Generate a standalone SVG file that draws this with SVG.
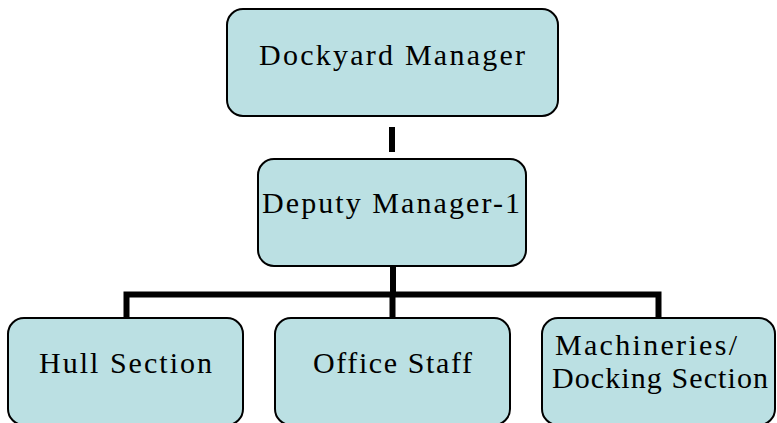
<svg xmlns="http://www.w3.org/2000/svg" width="777" height="423" viewBox="0 0 777 423">
<style>
.box{fill:#BBE0E3;stroke:#000;stroke-width:2}
.t{font-family:"Liberation Serif","Times New Roman",serif;font-size:30px;fill:#000}
.c{stroke:#000;stroke-width:6;fill:none}
</style>
<rect width="777" height="423" fill="#fff"/>
<g id="connectors">
<line class="c" x1="392" y1="127" x2="392" y2="152"/>
<line class="c" x1="393" y1="266" x2="393" y2="294.5"/>
<polyline class="c" points="126.5,318 126.5,294.5 658.5,294.5 658.5,318" stroke-linejoin="miter"/>
<line class="c" x1="392.5" y1="294.5" x2="392.5" y2="318"/>
</g>
<g id="dockyard-manager">
<rect class="box" x="227" y="9" width="331" height="107" rx="16"/>
<text class="t" x="259" y="65" textLength="266" lengthAdjust="spacing">Dockyard Manager</text>
</g>
<g id="deputy-manager">
<rect class="box" x="258" y="159" width="268" height="107" rx="16"/>
<text class="t" x="262" y="213" textLength="258" lengthAdjust="spacing">Deputy Manager-1</text>
</g>
<g id="hull-section">
<rect class="box" x="8" y="318" width="235" height="107" rx="16"/>
<text class="t" x="39" y="373" textLength="173" lengthAdjust="spacing">Hull Section</text>
</g>
<g id="office-staff">
<rect class="box" x="275" y="318" width="235" height="107" rx="16"/>
<text class="t" x="313" y="373" textLength="159" lengthAdjust="spacing">Office Staff</text>
</g>
<g id="machineries">
<rect class="box" x="542" y="318" width="233" height="107" rx="16"/>
<text class="t" x="555" y="355" textLength="182" lengthAdjust="spacing">Machineries/</text>
<text class="t" x="552" y="388" textLength="216" lengthAdjust="spacing">Docking Section</text>
</g>
</svg>
